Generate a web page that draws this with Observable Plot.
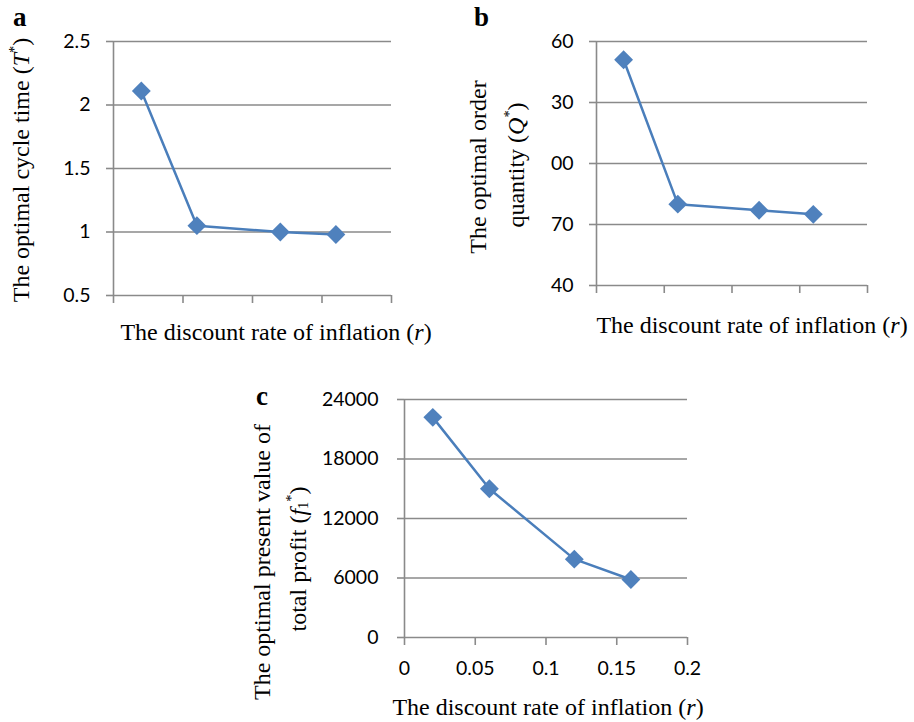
<!DOCTYPE html>
<html>
<head>
<meta charset="utf-8">
<script src="https://cdn.jsdelivr.net/npm/d3@7"></script>
<script src="https://cdn.jsdelivr.net/npm/@observablehq/plot@0.6"></script>
<style>
  html, body { margin: 0; padding: 0; background: #fff; }
  #wrap { position: relative; width: 914px; height: 722px; overflow: hidden; }
  .pl { position: absolute; }
  .t { position: absolute; font-family: "Liberation Serif", "Times New Roman", serif; font-size: 24px; color: #000; white-space: nowrap; line-height: 1; }
  .rot { transform: translate(-50%, -50%) rotate(-90deg); }
  .hx { transform: translate(-50%, -50%); }
  .lab { position: absolute; font-family: "Liberation Serif", serif; font-weight: bold; font-size: 27px; line-height: 1; }
  sup { font-size: 0.6em; vertical-align: 0.7em; }
  sub { font-size: 0.6em; vertical-align: -0.15em; }
</style>
</head>
<body>
<div id="wrap"></div>
<script>
// ---- data ----
const rates = [0.02, 0.06, 0.12, 0.16];
const cycleTime = [2.11, 1.05, 1.00, 0.98];
const orderQty = [151, 80, 77, 75];
const profit = [22200, 15000, 7900, 5850];

const xTicks = [0, 0.05, 0.1, 0.15, 0.2];
const xTickLabelsC = ["0", "0.05", "0.1", "0.15", "0.2"];

const yTicksA = [0.5, 1, 1.5, 2, 2.5];
const yTickLabelsA = ["0.5", "1", "1.5", "2", "2.5"];
const yTicksB = [40, 70, 100, 130, 160];
const yTickLabelsB = ["40", "70", "00", "30", "60"];
const yTicksC = [0, 6000, 12000, 18000, 24000];
const yTickLabelsC = ["0", "6000", "12000", "18000", "24000"];

const GRID = "#8a8a8a";
const LINE = "#4a7ebb";
const MARK = "#4f81bd";

function panel(o) {
  const data = rates.map((r, i) => ({ r, v: o.values[i] }));
  const yMap = new Map(o.yTicks.map((t, i) => [t, o.yLabels[i]]));
  const xMap = o.xLabels ? new Map(xTicks.map((t, i) => [t, o.xLabels[i]])) : null;
  return Plot.plot({
    width: o.width, height: o.height,
    marginLeft: o.ml, marginTop: o.mt, marginRight: o.mr, marginBottom: o.mb,
    style: { fontFamily: "Lato, sans-serif", fontSize: "19.5px", color: "#000", background: "transparent", overflow: "visible" },
    x: { domain: [0, 0.2] },
    y: { domain: o.yDomain },
    marks: [
      Plot.gridY(o.yTicks, { stroke: GRID, strokeOpacity: 1, strokeWidth: 1.6 }),
      Plot.axisY(o.yTicks, { tickSize: 7, tickPadding: o.yPad, stroke: GRID, strokeOpacity: 1, strokeWidth: 1.6, tickFormat: d => yMap.get(d), label: null, fill: "#000" }),
      Plot.axisX(xTicks, { tickSize: 8, tickPadding: 16, stroke: GRID, strokeOpacity: 1, strokeWidth: 1.6, tickFormat: d => xMap ? xMap.get(d) : "", label: null, fill: "#000" }),
      Plot.ruleX([0], { stroke: GRID, strokeWidth: 1.6 }),
      Plot.line(data, { x: "r", y: "v", stroke: LINE, strokeWidth: 2.5 }),
      Plot.dot(data, { x: "r", y: "v", symbol: "diamond2", r: 8.5, fill: MARK, stroke: "none" })
    ]
  });
}

const wrap = document.getElementById("wrap");
function place(el, left, top) {
  el.classList.add("pl");
  el.style.left = left + "px";
  el.style.top = top + "px";
  wrap.appendChild(el);
}

place(panel({ values: cycleTime, yDomain: [0.5, 2.5], yTicks: yTicksA, yLabels: yTickLabelsA, xLabels: null,
  width: 420, height: 330, ml: 113, mt: 41, mr: 29, mb: 35, yPad: 16 }), 0, 0);
place(panel({ values: orderQty, yDomain: [40, 160], yTicks: yTicksB, yLabels: yTickLabelsB, xLabels: null,
  width: 440, height: 330, ml: 136, mt: 41, mr: 33, mb: 45, yPad: 16 }), 460, 0);
place(panel({ values: profit, yDomain: [0, 24000], yTicks: yTicksC, yLabels: yTickLabelsC, xLabels: xTickLabelsC,
  width: 480, height: 330, ml: 164, mt: 29, mr: 33, mb: 63, yPad: 19 }), 240, 370);

function text(html, cls, x, y, extra) {
  const d = document.createElement("div");
  d.className = cls;
  d.innerHTML = html;
  d.style.left = x + "px";
  d.style.top = y + "px";
  if (extra) Object.assign(d.style, extra);
  wrap.appendChild(d);
}

const xTitle = "The discount rate of inflation (<i>r</i>)";
text(xTitle, "t hx", 276, 332);
text(xTitle, "t hx", 752, 325);
text(xTitle, "t hx", 548, 707);

text("The optimal cycle time (<i>T</i><sup>*</sup>)", "t rot", 20, 170);
text("The optimal order", "t rot", 478, 167);
text("quantity (<i>Q</i><sup>*</sup>)", "t rot", 515, 165);
text("The optimal present value of", "t rot", 262, 562);
text("total profit (<i>f</i><sub>1</sub><sup>*</sup>)", "t rot", 297, 559);

text("a", "lab", 13, 4);
text("b", "lab", 474, 4);
text("c", "lab", 256, 383);
</script>
</body>
</html>
